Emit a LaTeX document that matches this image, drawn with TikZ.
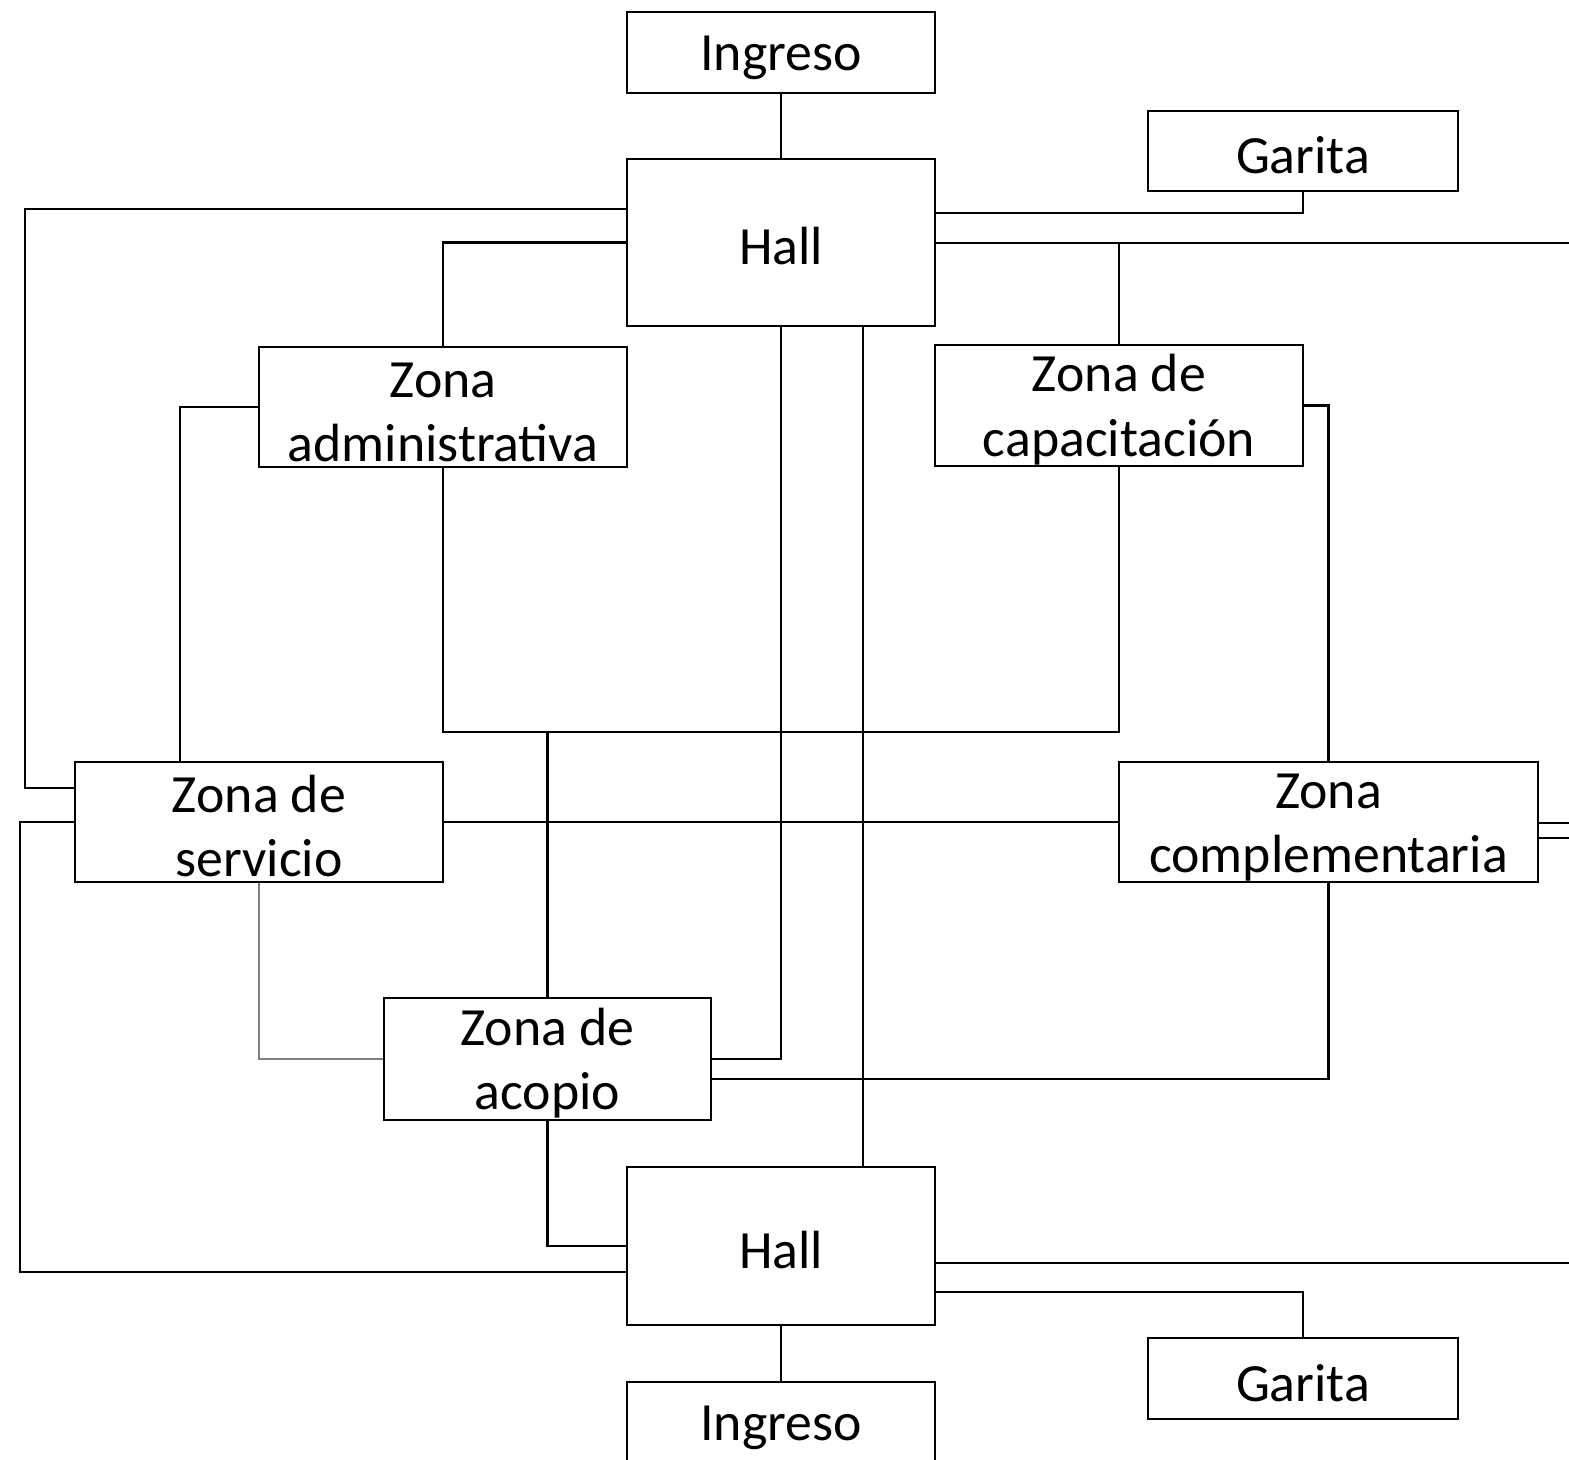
\documentclass[tikz,border=0pt]{standalone}
\usepackage{fontspec}
\setmainfont{Carlito}
\begin{document}
\begin{tikzpicture}[
    x=0.01cm, y=-0.01cm,
    line width=0.7pt,
    font=\fontsize{15.3}{18.4}\selectfont,
    zona/.style={draw, line width=0.7pt, align=center, inner sep=0pt,
        execute at begin node={\rule{0pt}{12.9pt}}},
    zonados/.style={zona, text height=31.3pt},
    enlace/.style={line width=0.7pt},
    enlacefino/.style={line width=0.35pt, gray}
]

\useasboundingbox (0,0) rectangle (1569,1460);

% Box sizes
\def\hw{3.08cm}
\def\zw{3.68cm}

% Top
\node[zona, minimum width=\hw, minimum height=0.81cm] (ingresoA) at (781,52.5) {Ingreso};
\node[zona, minimum width=3.10cm, minimum height=0.80cm] (garitaA) at (1303,151) {Garita};
\node[zona, minimum width=\hw, minimum height=1.67cm] (hallA) at (781,242.5) {Hall};

% Zones
\node[zonados, minimum width=\zw, minimum height=1.20cm] (admin) at (443,407) {Zona\\administrativa};
\node[zonados, minimum width=\zw, minimum height=1.21cm] (capac) at (1119,405.5) {Zona de\\capacitación};
\node[zonados, minimum width=\zw, minimum height=1.20cm] (servicio) at (259,822) {Zona de\\servicio};
\node[zonados, minimum width=4.19cm, minimum height=1.20cm] (complem) at (1328.5,822) {Zona\\complementaria};
\node[zonados, minimum width=3.27cm, minimum height=1.22cm] (acopio) at (547.5,1059) {Zona de\\acopio};

% Bottom
\node[zona, minimum width=\hw, minimum height=1.58cm] (hallB) at (781,1246) {Hall};
\node[zona, minimum width=3.10cm, minimum height=0.81cm] (garitaB) at (1303,1378.5) {Garita};
\node[zona, minimum width=\hw, minimum height=0.81cm] (ingresoB) at (781,1422.5) {Ingreso};

% Free ends at the right edge
\coordinate (bordeA) at (1569,243);
\coordinate (bordeB) at (1569,823);
\coordinate (bordeC) at (1569,838);
\coordinate (bordeD) at (1569,1263);

% Upper hall links
\draw[enlace] (ingresoA) -- (hallA);
\draw[enlace] (hallA.east |- 0,213) -| (garitaA.south);
\draw[enlace] (hallA.east |- bordeA) -- (bordeA);
\draw[enlace] (capac.north) -- (capac.north |- bordeA);
\draw[enlace] (hallA.west |- 0,209) -- (25,209) |- (servicio.west |- 0,788);
\draw[enlace] (hallA.west) -| (admin.north);
\draw[enlace] (hallA.south) |- (acopio.east);
\draw[enlace] (hallA.south -| 863,0) -- (hallB.north -| 863,0);

% Zone links
\draw[enlace] (admin.west) -| (servicio.north -| 180,0);
\draw[enlace] (admin.south) |- (capac.south |- 0,732) -- (capac.south);
\draw[enlace] (acopio.north) -- (acopio.north |- 0,732);
\draw[enlace] (capac.east) -| (complem.north);
\draw[enlace] (servicio.east) -- (complem.west);
\draw[enlace] (complem.east |- bordeB) -- (bordeB);
\draw[enlace] (complem.east |- bordeC) -- (bordeC);
\draw[enlacefino] (servicio.south) |- (acopio.west);
\draw[enlace] (complem.south) |- (acopio.east |- 0,1079);

% Lower hall links
\draw[enlace] (servicio.west) -- (20,822) |- (hallB.west |- 0,1272);
\draw[enlace] (acopio.south) |- (hallB.west);
\draw[enlace] (hallB.east |- bordeD) -- (bordeD);
\draw[enlace] (hallB.east |- 0,1292) -| (garitaB.north);
\draw[enlace] (hallB) -- (ingresoB);

\end{tikzpicture}
\end{document}
